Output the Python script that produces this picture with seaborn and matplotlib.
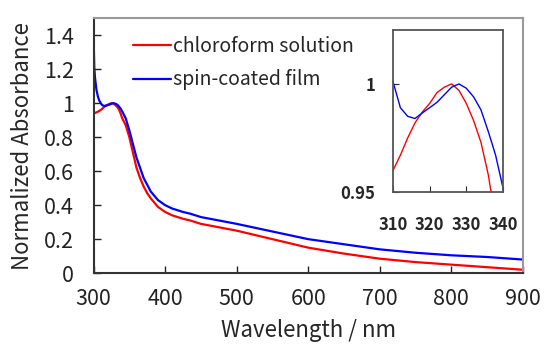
import numpy as np
import pandas as pd
import seaborn as sns
import matplotlib.pyplot as plt
from matplotlib.ticker import FormatStrFormatter

# wavelength grid (nm) shared by both spectra
wavelength = [300, 301, 302, 304, 306, 308, 310, 312, 314, 316, 318, 320, 322, 324,
              326, 328, 330, 332, 334, 336, 338, 340, 345, 350, 355, 360, 365, 370,
              375, 380, 390, 400, 410, 425, 435, 450, 475, 500, 550, 600, 650, 700,
              750, 800, 850, 900]

solution = [0.940, 0.941, 0.943, 0.946, 0.950, 0.955, 0.960, 0.967, 0.975, 0.982, 0.987,
            0.991, 0.996, 0.9985, 1.000, 0.997, 0.991, 0.983, 0.973, 0.958, 0.937, 0.912,
            0.870, 0.800, 0.710, 0.620, 0.560, 0.510, 0.470, 0.440, 0.390, 0.360, 0.340,
            0.320, 0.310, 0.290, 0.270, 0.250, 0.200, 0.150, 0.115, 0.085, 0.065, 0.050,
            0.035, 0.020]

film = [1.400, 1.210, 1.150, 1.080, 1.040, 1.015, 1.001, 0.989, 0.985, 0.984, 0.9866,
        0.989, 0.9915, 0.995, 0.9985, 1.000, 0.998, 0.994, 0.988, 0.978, 0.967, 0.952,
        0.910, 0.840, 0.760, 0.680, 0.620, 0.560, 0.520, 0.480, 0.430, 0.400, 0.380,
        0.360, 0.350, 0.330, 0.310, 0.290, 0.245, 0.200, 0.170, 0.140, 0.120, 0.105,
        0.095, 0.080]

labels = ['chloroform solution', 'spin-coated film']
colors = ['#ff0000', '#0000ff']

df = pd.concat([
    pd.DataFrame({'wl': wavelength, 'abs': solution, 'sample': labels[0]}),
    pd.DataFrame({'wl': wavelength, 'abs': film, 'sample': labels[1]}),
])

sns.set_style('ticks')
plt.rcParams['font.family'] = ['Noto Sans CJK JP', 'DejaVu Sans']

fig = plt.figure(figsize=(5.44, 3.44), dpi=100)
ax = fig.add_axes([0.172, 0.206, 0.789, 0.741])
sns.lineplot(data=df, x='wl', y='abs', hue='sample', palette=colors, lw=1.6, ax=ax)
ax.set_xlim(300, 900)
ax.set_ylim(0, 1.5)
ax.set_xticks(np.arange(300, 901, 100))
ax.set_yticks(np.arange(0, 1.41, 0.2))
ax.yaxis.set_major_formatter(FormatStrFormatter('%g'))
ax.tick_params(direction='in', length=5, width=1, labelsize=15.5, colors='#222222')
ax.tick_params(axis='y', pad=14)
ax.tick_params(axis='x', pad=11)
ax.set_xlabel('Wavelength / nm', fontsize=16, labelpad=6)
ax.set_ylabel('Normalized Absorbance', fontsize=16, labelpad=7)
for s in ['left', 'bottom']:
    ax.spines[s].set_color('#333333')
    ax.spines[s].set_linewidth(1.5)
for s in ['top', 'right']:
    ax.spines[s].set_color('#999999')
    ax.spines[s].set_linewidth(1.5)
ax.legend(frameon=False, loc='upper left', bbox_to_anchor=(0.05, 1.0),
          fontsize=14, handlelength=2.0, handletextpad=0.1, labelspacing=0.65)

# inset zoom of the peak
ins = fig.add_axes([0.7225, 0.442, 0.202, 0.471])
sns.lineplot(data=df, x='wl', y='abs', hue='sample', palette=colors, lw=1.0,
             ax=ins, legend=False)
ins.set_xlim(310, 340)
ins.set_ylim(0.95, 1.025)
ins.set_xticks([310, 320, 330, 340])
ins.set_yticks([0.95, 1])
ins.yaxis.set_major_formatter(FormatStrFormatter('%g'))
ins.tick_params(direction='in', length=4, labelsize=12)
ins.tick_params(axis='x', pad=17)
ins.tick_params(axis='y', pad=13)
for t in ins.get_xticklabels() + ins.get_yticklabels():
    t.set_fontweight('bold')
ins.set_xlabel('')
ins.set_ylabel('')
for s in ins.spines.values():
    s.set_color('#555555')
    s.set_linewidth(1.3)

fig.savefig('out.png', dpi=100)
